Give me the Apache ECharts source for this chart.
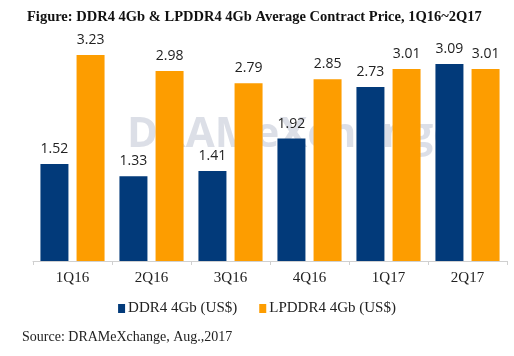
<!DOCTYPE html>
<html><head><meta charset="utf-8">
<script src="https://cdn.jsdelivr.net/npm/echarts@6/dist/echarts.min.js"></script>
<style>html,body{margin:0;padding:0;background:#fff}#c{width:514px;height:356px}</style>
</head><body><div id="c"></div>
<script>
const categories = ['1Q16','2Q16','3Q16','4Q16','1Q17','2Q17'];
const ddr4 = [1.52,1.33,1.41,1.92,2.73,3.09];
const lpddr4 = [3.23,2.98,2.79,2.85,3.01,3.01];
const seriesNames = ['DDR4 4Gb (US$)','LPDDR4 4Gb (US$)'];

const chart = echarts.init(document.getElementById('c'));
const serif = '"Liberation Serif", "DejaVu Serif", serif';
const sans = '"Open Sans", "Liberation Sans", sans-serif';
chart.setOption({
  animation:false,
  title:{text:'Figure: DDR4 4Gb & LPDDR4 4Gb Average Contract Price, 1Q16~2Q17',left:22,top:5,
    textStyle:{fontFamily:serif,fontWeight:'bold',fontSize:14.5,color:'#111'}},
  graphic:[
    {type:'text',left:127,top:114,z:0,style:{text:'DRAMeXchange',font:'bold 42px "Open Sans", sans-serif',fill:'rgba(140,150,175,0.3)'}},
    {type:'text',left:22,top:330,style:{text:'Source: DRAMeXchange, Aug.,2017',font:'14px "Liberation Serif", serif',fill:'#222'}}
  ],
  legend:{bottom:35,left:'center',itemWidth:7,itemHeight:9,itemGap:22,icon:'rect',
    textStyle:{fontFamily:serif,fontSize:15,color:'#222',padding:[0,0,0,-2]}},
  grid:{left:33,right:7,top:6,bottom:95},
  xAxis:{type:'category',data:categories,
    axisLine:{lineStyle:{color:'#d0d0d0'}},axisTick:{show:true,length:4,lineStyle:{color:'#d0d0d0'}},
    axisLabel:{fontFamily:serif,fontSize:15,color:'#222',margin:10}},
  yAxis:{type:'value',min:0,max:4,show:false,splitLine:{show:false}},
  series:[
    {name:seriesNames[0],type:'bar',data:ddr4,barWidth:28,barGap:'29%',itemStyle:{color:'#023a7a'},z:3,
     label:{show:true,position:'top',distance:8,fontFamily:sans,fontSize:14,color:'#222'}},
    {name:seriesNames[1],type:'bar',data:lpddr4,barWidth:28,itemStyle:{color:'#fd9d00'},z:3,
     label:{show:true,position:'top',distance:8,fontFamily:sans,fontSize:14,color:'#222'}}
  ]
});
</script></body></html>
